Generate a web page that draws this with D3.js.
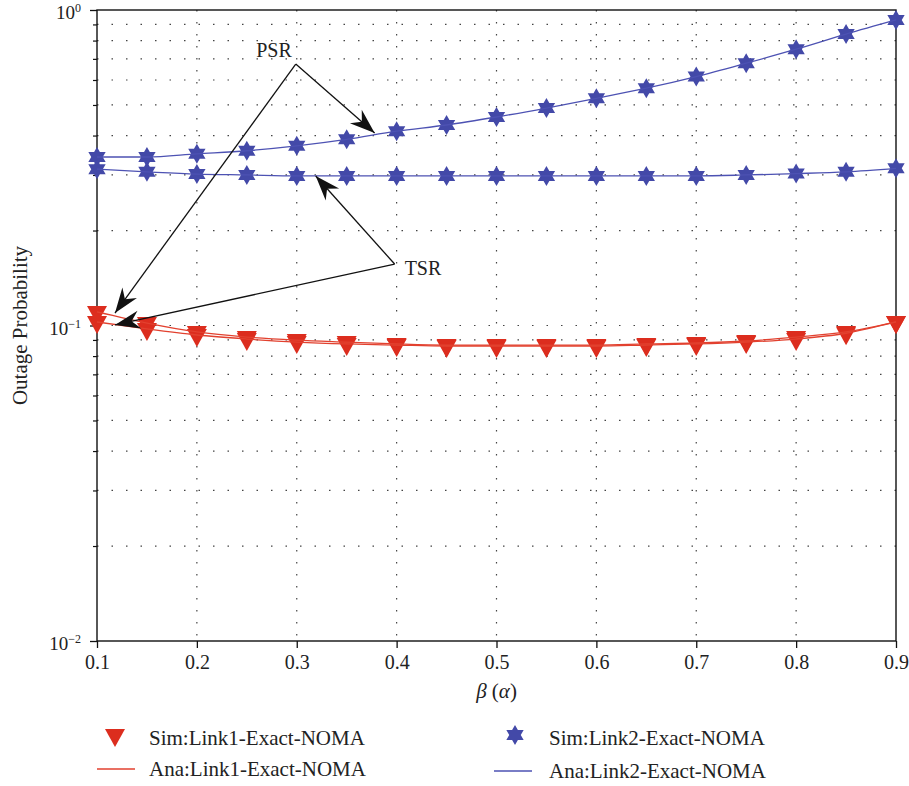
<!DOCTYPE html>
<html>
<head>
<meta charset="utf-8">
<script src="https://cdn.jsdelivr.net/npm/d3@7"></script>
<style>
  body { margin: 0; background: #fff; }
  svg { display: block; }
  text { font-family: "Liberation Serif", "Times New Roman", serif; fill: #222; }
</style>
</head>
<body>
<div id="chart"></div>
<script>
// x values (beta / alpha)
var betaValues = [0.1, 0.15, 0.2, 0.25, 0.3, 0.35, 0.4, 0.45, 0.5, 0.55, 0.6, 0.65, 0.7, 0.75, 0.8, 0.85, 0.9];

// Link1 outage probability (PSR and TSR)
var link1PSR = [0.1104, 0.1018, 0.0954, 0.0919, 0.0899, 0.0886, 0.0874, 0.0867, 0.0867, 0.0867, 0.0867, 0.0874, 0.0880, 0.0893, 0.0919, 0.0954, 0.1026];
var link1TSR = [0.1026, 0.0975, 0.0933, 0.0906, 0.0886, 0.0874, 0.0867, 0.0861, 0.0861, 0.0861, 0.0861, 0.0867, 0.0874, 0.0886, 0.0906, 0.0945, 0.1026];

// Link2 outage probability (PSR and TSR)
var link2PSR = [0.342, 0.342, 0.350, 0.358, 0.371, 0.389, 0.413, 0.432, 0.458, 0.489, 0.525, 0.565, 0.615, 0.678, 0.751, 0.839, 0.930];
var link2TSR = [0.313, 0.307, 0.302, 0.300, 0.298, 0.298, 0.298, 0.298, 0.298, 0.298, 0.298, 0.298, 0.298, 0.300, 0.303, 0.307, 0.315];

// tick labels
var xTicks = [0.1, 0.2, 0.3, 0.4, 0.5, 0.6, 0.7, 0.8, 0.9];
var yMajorTicks = [0.01, 0.1, 1];
var yExponents = ["-2", "-1", "0"];

var legendLabels = ["Sim:Link1-Exact-NOMA", "Ana:Link1-Exact-NOMA", "Sim:Link2-Exact-NOMA", "Ana:Link2-Exact-NOMA"];

// annotation arrows, in data coordinates: [label, apex, tips]
var annotations = [
    { label: "PSR", apex: [0.299, 0.674], tips: [[0.378, 0.4075], [0.118, 0.1095]] },
    { label: "TSR", apex: [0.398, 0.1566], tips: [[0.319, 0.2978], [0.118, 0.1004]] }
];

var red = "#dc2d1e";
var redLine = "#e2412f";
var blue = "#4349a8";
var blueLine = "#4d52b3";

var W = 909, H = 786;
var margin = { left: 97, top: 10, right: 13, bottom: 145 };
var width = W - margin.left - margin.right;
var height = H - margin.top - margin.bottom;

var svg = d3.select("#chart").append("svg")
    .attr("width", W)
    .attr("height", H);

var g = svg.append("g")
    .attr("transform", "translate(" + margin.left + "," + margin.top + ")");

var x = d3.scaleLinear().domain([0.1, 0.9]).range([0, width]);
var y = d3.scaleLog().domain([0.01, 1]).range([height, 0]);

// minor y positions 2..9 in each decade
var yMinor = [];
[0.01, 0.1].forEach(function (d) {
    for (var k = 2; k <= 9; k++) yMinor.push(d * k);
});

// grid (dotted)
var grid = g.append("g").attr("class", "grid");
grid.selectAll("line.gx")
    .data(xTicks.slice(1, -1))
    .enter().append("line")
    .attr("x1", function (d) { return x(d); })
    .attr("x2", function (d) { return x(d); })
    .attr("y1", 0).attr("y2", height)
    .attr("stroke", "#444").attr("stroke-width", 1.2)
    .attr("stroke-dasharray", "1.5,10.5");

grid.selectAll("line.gy")
    .data(yMinor.concat([0.1]))
    .enter().append("line")
    .attr("x1", 0).attr("x2", width)
    .attr("y1", function (d) { return y(d); })
    .attr("y2", function (d) { return y(d); })
    .attr("stroke", "#444").attr("stroke-width", 1.2)
    .attr("stroke-dasharray", "1.5,13");

// axes
var xAxis = g.append("g")
    .attr("transform", "translate(0," + height + ")")
    .call(d3.axisBottom(x).tickValues(xTicks).tickSize(7).tickPadding(7)
        .tickFormat(d3.format(".1f")));
xAxis.select(".domain").remove();
xAxis.selectAll("line").attr("stroke", "#111").attr("stroke-width", 1.3);
xAxis.selectAll("text")
    .style("font-family", "Liberation Serif, serif")
    .style("font-size", "20px")
    .attr("fill", "#222");

var yAxisMajor = g.append("g")
    .call(d3.axisLeft(y).tickValues(yMajorTicks).tickSize(7).tickFormat(""));
yAxisMajor.select(".domain").remove();
yAxisMajor.selectAll("line").attr("stroke", "#111").attr("stroke-width", 1.3);

var yAxisMinor = g.append("g")
    .call(d3.axisLeft(y).tickValues(yMinor).tickSize(4).tickFormat(""));
yAxisMinor.select(".domain").remove();
yAxisMinor.selectAll("line").attr("stroke", "#111").attr("stroke-width", 1.2);

// y tick labels as 10^n
var yLabels = g.append("g").selectAll("text")
    .data(yMajorTicks)
    .enter().append("text")
    .attr("x", -16)
    .attr("y", function (d) { return y(d) + 9; })
    .attr("text-anchor", "end")
    .style("font-size", "19px");
yLabels.append("tspan").text("10");
yLabels.append("tspan")
    .attr("dy", -7)
    .style("font-size", "12px")
    .text(function (d, i) { return yExponents[i].replace("-", "\u2212"); });

// plot frame
g.append("rect")
    .attr("width", width).attr("height", height)
    .attr("fill", "none").attr("stroke", "#111").attr("stroke-width", 1.4);

// axis titles
g.append("text")
    .attr("transform", "translate(" + (-70) + "," + (height / 2) + ") rotate(-90)")
    .attr("text-anchor", "middle")
    .style("font-size", "21px")
    .text("Outage Probability");

var xt = g.append("text")
    .attr("x", width / 2)
    .attr("y", height + 57)
    .attr("text-anchor", "middle")
    .style("font-size", "21px");
xt.append("tspan").style("font-style", "italic").text("\u03b2");
xt.append("tspan").text(" (");
xt.append("tspan").style("font-style", "italic").text("\u03b1");
xt.append("tspan").text(")");

// custom marker shapes
var triDown = {
    draw: function (ctx, size) {
        var w = 20, h = 18;
        ctx.moveTo(-w / 2, -h / 3);
        ctx.lineTo(w / 2, -h / 3);
        ctx.lineTo(0, 2 * h / 3);
        ctx.closePath();
    }
};
var hexagram = {
    draw: function (ctx, size) {
        var R = 10, r = R / Math.sqrt(3);
        for (var i = 0; i < 12; i++) {
            var a = -Math.PI / 2 + i * Math.PI / 6;
            var rad = (i % 2 === 0) ? R : r;
            var px = rad * Math.cos(a), py = rad * Math.sin(a);
            if (i === 0) ctx.moveTo(px, py); else ctx.lineTo(px, py);
        }
        ctx.closePath();
    }
};

var series = [
    { values: link1PSR, marker: triDown, fill: red, line: redLine },
    { values: link1TSR, marker: triDown, fill: red, line: redLine },
    { values: link2PSR, marker: hexagram, fill: blue, line: blueLine },
    { values: link2TSR, marker: hexagram, fill: blue, line: blueLine }
];

var line = d3.line()
    .x(function (d) { return x(d[0]); })
    .y(function (d) { return y(d[1]); })
    .curve(d3.curveMonotoneX);

series.forEach(function (s) {
    var pts = betaValues.map(function (b, i) { return [b, s.values[i]]; });
    g.selectAll(null)
        .data(pts)
        .enter().append("path")
        .attr("transform", function (d) { return "translate(" + x(d[0]) + "," + y(d[1]) + ")"; })
        .attr("d", d3.symbol().type(s.marker))
        .attr("fill", s.fill);
});
series.forEach(function (s) {
    var pts = betaValues.map(function (b, i) { return [b, s.values[i]]; });
    g.append("path")
        .datum(pts)
        .attr("d", line)
        .attr("fill", "none")
        .attr("stroke", s.line)
        .attr("stroke-width", 1.3);
});

// annotation arrows
function arrowHead(tip, from) {
    var dx = tip[0] - from[0], dy = tip[1] - from[1];
    var ang = Math.atan2(dy, dx) * 180 / Math.PI;
    return "translate(" + tip[0] + "," + tip[1] + ") rotate(" + ang + ")";
}
annotations.forEach(function (a, k) {
    var ax = x(a.apex[0]), ay = y(a.apex[1]);
    a.tips.forEach(function (t) {
        var tx = x(t[0]), ty = y(t[1]);
        g.append("line")
            .attr("x1", ax).attr("y1", ay)
            .attr("x2", tx).attr("y2", ty)
            .attr("stroke", "#111").attr("stroke-width", 1.3);
        g.append("path")
            .attr("d", "M0,0 L-25,-9 L-17,0 L-25,9 Z")
            .attr("transform", arrowHead([tx, ty], [ax, ay]))
            .attr("fill", "#111");
    });
    g.append("text")
        .attr("x", k === 0 ? ax - 4 : ax + 10)
        .attr("y", k === 0 ? ay - 7 : ay + 11)
        .attr("text-anchor", k === 0 ? "end" : "start")
        .style("font-size", "20px")
        .text(a.label);
});

// legend
var legend = svg.append("g").attr("class", "legend");
var legendItems = [
    { label: legendLabels[0], kind: "marker", shape: triDown, color: red, mx: 115, my: 738, tx: 149 },
    { label: legendLabels[1], kind: "line", color: redLine, mx: 97, my: 769, tx: 149 },
    { label: legendLabels[2], kind: "marker", shape: hexagram, color: blue, mx: 515, my: 738, tx: 549 },
    { label: legendLabels[3], kind: "line", color: blueLine, mx: 494, my: 771, tx: 549 }
];
legendItems.forEach(function (d) {
    if (d.kind === "marker") {
        legend.append("path")
            .attr("transform", "translate(" + d.mx + "," + (d.my - 3) + ")")
            .attr("d", d3.symbol().type(d.shape))
            .attr("fill", d.color);
    } else {
        legend.append("line")
            .attr("x1", d.mx).attr("x2", d.mx + 38)
            .attr("y1", d.my).attr("y2", d.my)
            .attr("stroke", d.color).attr("stroke-width", 1.5);
    }
    legend.append("text")
        .attr("x", d.tx)
        .attr("y", d.my + 7)
        .style("font-size", "21px")
        .text(d.label);
});
</script>
</body>
</html>
